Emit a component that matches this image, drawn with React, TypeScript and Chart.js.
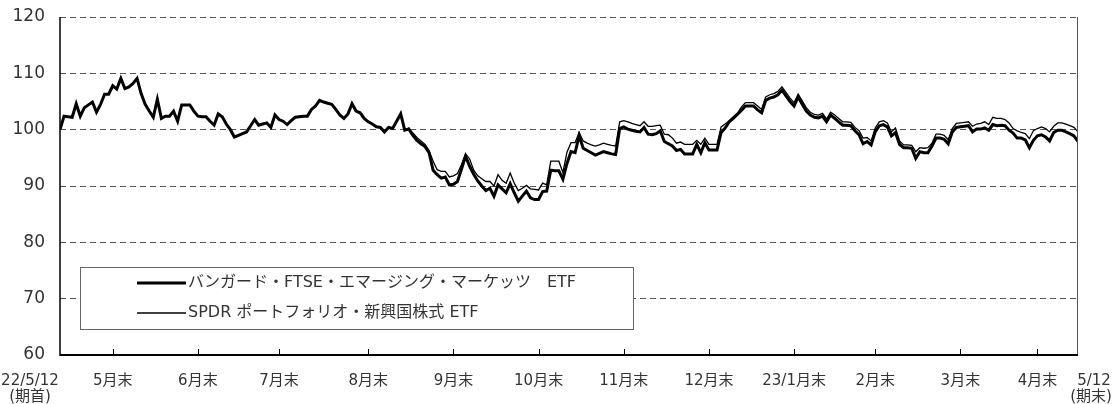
import React, { useEffect, useRef } from "react";
import { Chart, registerables } from "chart.js";

Chart.register(...registerables);

const seriesNames = [
  "バンガード・FTSE・エマージング・マーケッツ　ETF",
  "SPDR ポートフォリオ・新興国株式 ETF",
];

// Index values (period start = 100), one value per trading day
const vwo = [
  100.0, 102.4, 102.3, 102.2, 104.6, 102.4, 103.9, 104.4, 104.9, 103.1,
  104.5, 106.3, 106.3, 107.8, 107.2, 109.1, 107.3, 107.6, 108.2, 109.1,
  106.4, 104.5, 103.3, 102.2, 105.4, 102.0, 102.4, 102.4, 103.3, 101.5,
  104.4, 104.4, 104.4, 103.3, 102.4, 102.3, 102.3, 101.5, 100.8, 102.8,
  102.3, 101.0, 100.0, 98.7, 99.0, 99.3, 99.6, 100.7, 101.8, 100.8,
  101.0, 101.2, 100.4, 102.6, 101.8, 101.5, 100.9, 101.6, 102.2, 102.3,
  102.4, 102.4, 103.6, 104.2, 105.2, 104.9, 104.7, 104.5, 103.6, 102.6,
  102.0, 102.8, 104.6, 103.3, 103.0, 102.0, 101.4, 101.0, 100.5, 100.4,
  99.6, 100.4, 100.2, 101.5, 102.8, 99.9, 100.1, 99.0, 98.1, 97.5,
  97.0, 95.9, 92.8, 92.0, 91.4, 91.6, 90.2, 90.3, 90.8, 93.0,
  95.3, 93.5, 92.1, 90.9, 90.0, 89.2, 89.6, 88.2, 90.2, 89.5,
  88.8, 90.4, 88.8, 87.3, 88.2, 89.1, 87.9, 87.6, 87.6, 89.0,
  89.1, 92.8, 92.7, 92.7, 91.2, 94.0, 96.1, 95.9, 98.9, 96.7,
  96.3, 95.9, 95.5, 95.8, 96.1, 95.9, 95.7, 95.6, 100.2, 100.5,
  100.1, 99.9, 99.7, 99.6, 100.4, 99.2, 99.1, 99.3, 99.8, 97.9,
  97.5, 97.1, 96.3, 96.5, 95.7, 95.7, 95.7, 97.4, 95.9, 97.7,
  96.4, 96.4, 96.4, 99.5, 100.3, 101.4, 102.0, 102.7, 103.4, 104.2,
  104.2, 104.2, 103.5, 103.0, 105.2, 105.6, 105.8, 106.2, 107.0, 106.0,
  105.0, 104.2, 105.8, 104.5, 103.3, 102.6, 102.2, 102.1, 102.4, 101.4,
  102.6, 102.0, 101.4, 100.8, 100.8, 100.7, 99.8, 99.1, 97.5, 97.9,
  97.3, 99.6, 100.7, 100.9, 100.5, 98.9, 99.5, 97.4, 96.8, 96.8,
  96.7, 94.9, 96.1, 95.9, 95.9, 97.1, 98.5, 98.5, 98.3, 97.5,
  99.6, 100.4, 100.5, 100.6, 100.7, 99.6, 100.1, 100.1, 100.3, 99.9,
  100.9, 100.7, 100.8, 100.7, 99.9, 99.4, 98.5, 98.5, 98.2, 96.8,
  98.1, 98.9, 99.1, 98.7, 98.0, 99.5, 99.9, 99.9, 99.6, 99.3,
  98.9, 97.9,
];

const spem = [
  100.0, 102.4, 102.3, 102.2, 104.6, 102.4, 103.9, 104.4, 104.9, 103.1,
  104.5, 106.3, 106.3, 107.8, 107.2, 109.1, 107.3, 107.6, 108.2, 109.1,
  106.4, 104.5, 103.3, 102.2, 105.4, 102.0, 102.4, 102.4, 103.3, 101.5,
  104.4, 104.4, 104.4, 103.3, 102.4, 102.3, 102.3, 101.5, 100.8, 102.8,
  102.3, 101.0, 100.0, 98.7, 99.0, 99.3, 99.6, 100.7, 101.8, 100.8,
  101.0, 101.2, 100.4, 102.6, 101.8, 101.5, 100.9, 101.6, 102.2, 102.3,
  102.4, 102.4, 103.6, 104.2, 105.2, 104.9, 104.7, 104.5, 103.6, 102.6,
  102.0, 102.8, 104.6, 103.3, 103.0, 102.0, 101.4, 101.0, 100.5, 100.4,
  99.6, 100.4, 100.2, 101.5, 102.8, 99.9, 100.3, 99.4, 98.6, 98.0,
  97.4, 96.3, 94.4, 92.9, 92.6, 92.6, 91.6, 91.8, 92.2, 93.8,
  95.7, 94.8, 92.8, 91.8, 91.3, 90.8, 90.8, 90.0, 92.0, 91.0,
  90.5, 92.3, 90.5, 89.2, 89.6, 90.1, 89.5, 89.4, 89.3, 90.5,
  90.2, 94.4, 94.4, 94.4, 92.4, 96.0, 97.7, 97.7, 99.5, 98.0,
  97.6, 97.3, 97.1, 97.3, 97.6, 97.4, 97.2, 97.1, 101.4, 101.6,
  101.4, 101.1, 100.9, 100.7, 101.4, 100.6, 100.6, 100.7, 100.8, 99.2,
  99.1, 98.5, 97.6, 97.8, 97.4, 97.4, 97.4, 98.1, 97.4, 98.5,
  97.4, 97.4, 97.4, 100.5, 101.0, 101.6, 102.3, 102.9, 104.0, 104.8,
  104.8, 104.8, 104.2, 103.6, 105.8, 106.2, 106.4, 106.8, 107.6, 106.6,
  105.6, 104.8, 106.3, 105.1, 103.9, 103.1, 102.7, 102.6, 102.9, 101.9,
  103.1, 102.6, 102.0, 101.4, 101.4, 101.3, 100.4, 99.8, 98.5, 98.6,
  98.0, 100.3, 101.4, 101.6, 101.2, 99.6, 100.3, 98.0, 97.3, 97.3,
  97.2, 96.1, 96.8, 96.7, 96.8, 97.6, 99.2, 99.2, 99.0, 98.2,
  100.2, 101.1, 101.2, 101.3, 101.4, 100.6, 101.0, 101.1, 101.4, 100.9,
  102.2, 102.0, 102.0, 101.8, 101.2, 100.2, 99.8, 99.5, 99.3, 98.4,
  99.8, 100.2, 100.5, 100.2, 99.6, 100.6, 101.2, 101.2, 101.0, 100.7,
  100.4, 99.6,
];

// Month-end positions (trading-day index) and their labels
const xTickIndex = [13, 34, 54, 76, 97, 118, 139, 160, 181, 201, 222, 241];
const xTickLabels = [
  "5月末", "6月末", "7月末", "8月末", "9月末", "10月末",
  "11月末", "12月末", "23/1月末", "2月末", "3月末", "4月末",
];
const xStartLabel = ["22/5/12", "(期首)"];
const xEndLabel = ["5/12", "(期末)"];
const yMin = 60;
const yMax = 120;
const yStep = 10;

const FONT_FAMILY = '"DejaVu Sans", "Noto Sans CJK JP", sans-serif';
const TEXT_COLOR = "#333333";

const overlayPlugin = {
  id: "overlay",
  afterDraw(chart: any) {
    const { ctx, chartArea: a, scales } = chart;
    const x = scales.x;
    ctx.save();

    // right border
    ctx.strokeStyle = "#555555";
    ctx.lineWidth = 1;
    ctx.beginPath();
    ctx.moveTo(a.right - 0.5, a.top);
    ctx.lineTo(a.right - 0.5, a.bottom);
    ctx.stroke();

    // left axis
    ctx.strokeStyle = "#000000";
    ctx.lineWidth = 1.5;
    ctx.beginPath();
    ctx.moveTo(a.left, a.top);
    ctx.lineTo(a.left, a.bottom + 1);
    ctx.stroke();

    // bottom axis
    ctx.lineWidth = 2;
    ctx.beginPath();
    ctx.moveTo(a.left, a.bottom);
    ctx.lineTo(a.right, a.bottom);
    ctx.stroke();

    // month-end tick marks (inward)
    ctx.lineWidth = 1;
    xTickIndex.forEach((idx) => {
      const px = Math.round(x.getPixelForValue(idx)) + 0.5;
      ctx.beginPath();
      ctx.moveTo(px, a.bottom);
      ctx.lineTo(px, a.bottom - 6);
      ctx.stroke();
    });

    // x labels
    ctx.fillStyle = TEXT_COLOR;
    ctx.font = `15px ${FONT_FAMILY}`;
    ctx.textAlign = "center";
    ctx.textBaseline = "middle";
    const y1 = a.bottom + 26;
    const y2 = a.bottom + 42;
    xTickIndex.forEach((idx, i) => {
      ctx.fillText(xTickLabels[i], x.getPixelForValue(idx), y1);
    });
    const sx = x.getPixelForValue(0) - 30;
    ctx.fillText(xStartLabel[0], sx, y1);
    ctx.fillText(xStartLabel[1], sx, y2);
    const ex = x.getPixelForValue(vwo.length - 1) + 16;
    ctx.fillText(xEndLabel[0], ex, y1);
    ctx.fillText(xEndLabel[1], ex - 3, y2);

    // legend box
    const lx = a.left + 20;
    const ly = 267;
    const lw = 553;
    const lh = 62;
    ctx.fillStyle = "#ffffff";
    ctx.fillRect(lx, ly, lw, lh);
    ctx.strokeStyle = "#666666";
    ctx.lineWidth = 1;
    ctx.strokeRect(lx + 0.5, ly + 0.5, lw, lh);

    ctx.font = `16px ${FONT_FAMILY}`;
    const rows = [
      { y: ly + 16, w: 3 },
      { y: ly + 46, w: 1.3 },
    ];
    rows.forEach((r, i) => {
      ctx.strokeStyle = "#000000";
      ctx.lineWidth = r.w;
      ctx.beginPath();
      ctx.moveTo(lx + 57, r.y);
      ctx.lineTo(lx + 106, r.y);
      ctx.stroke();
      ctx.fillStyle = TEXT_COLOR;
      ctx.textAlign = "left";
      ctx.fillText(seriesNames[i], lx + 108, r.y);
    });

    ctx.restore();
  },
};

export default function App() {
  const canvasRef = useRef<HTMLCanvasElement | null>(null);

  useEffect(() => {
    document.body.style.margin = "0";
    const canvas = canvasRef.current;
    if (!canvas) return;
    const chart = new Chart(canvas, {
      type: "line",
      data: {
        datasets: [
          {
            label: seriesNames[0],
            data: vwo.map((v, i) => ({ x: i, y: v })),
            borderColor: "#000000",
            borderWidth: 3,
            pointRadius: 0,
            tension: 0,
            fill: false,
          },
          {
            label: seriesNames[1],
            data: spem.map((v, i) => ({ x: i, y: v })),
            borderColor: "#000000",
            borderWidth: 1.3,
            pointRadius: 0,
            tension: 0,
            fill: false,
          },
        ],
      },
      options: {
        animation: false,
        responsive: false,
        maintainAspectRatio: false,
        layout: { padding: { left: 0, right: 35, top: 17, bottom: 49 } },
        plugins: {
          legend: { display: false },
          tooltip: { enabled: false },
        },
        scales: {
          x: {
            type: "linear",
            min: 0,
            max: vwo.length - 1,
            display: false,
          },
          y: {
            min: yMin,
            max: yMax,
            afterFit: (scale: any) => {
              scale.width = 60;
              scale.paddingTop = 0;
              scale.paddingBottom = 0;
            },
            ticks: {
              stepSize: yStep,
              padding: 15,
              color: TEXT_COLOR,
              font: { size: 17, family: FONT_FAMILY },
            },
            grid: {
              color: "#555555",
              lineWidth: 1,
              drawTicks: false,
            },
            border: { display: false, dash: [6, 4] },
          },
        },
      },
      plugins: [overlayPlugin],
    });
    return () => chart.destroy();
  }, []);

  return (
    <div style={{ width: 1113, height: 404 }}>
      <canvas ref={canvasRef} width={1113} height={404} style={{ display: "block" }} />
    </div>
  );
}
